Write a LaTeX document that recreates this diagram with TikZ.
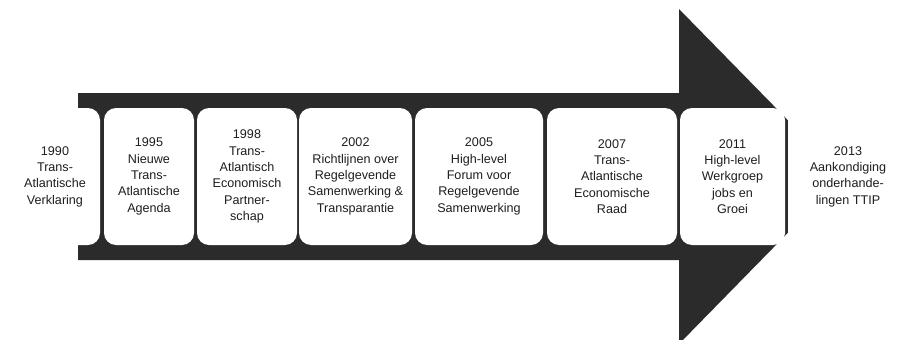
\documentclass[tikz,border=0pt]{standalone}
\usepackage{fontspec}
\setmainfont{Liberation Sans}
\definecolor{arrowgray}{HTML}{2B2B2B}
\definecolor{inkgray}{HTML}{1E1E1E}
\begin{document}
\begin{tikzpicture}[x=1pt,y=-1pt,
  stage/.style={fill=white, draw=none, rounded corners=12pt, inner sep=0pt,
    minimum height=137pt, align=center, text=inkgray,
    font=\fontsize{12.6}{16.3}\selectfont}]
\useasboundingbox (0,0) rectangle (905,340);
\clip (0,0) rectangle (905,340);
% the big timeline arrow
\fill[arrowgray] (78,93) -- (679,93) -- (679,9) -- (843,176.5) -- (679,344)
  -- (679,260) -- (78,260) -- cycle;
% milestones along the shaft
\node[stage, minimum width=90pt]  (b1) at (55,176.5)    {1990\\Trans-\\Atlantische\\Verklaring};
\node[stage, minimum width=90pt]  (b2) at (149,176.5)   {1995\\Nieuwe\\Trans-\\Atlantische\\Agenda};
\node[stage, minimum width=100pt] (b3) at (247,176.5)   {1998\\Trans-\\Atlantisch\\Economisch\\Partner-\\schap};
\node[stage, minimum width=113pt] (b4) at (355.5,176.5) {2002\\Richtlijnen over\\Regelgevende\\Samenwerking \&\\Transparantie};
\node[stage, minimum width=128pt] (b5) at (479,176.5)   {2005\\High-level\\Forum voor\\Regelgevende\\Samenwerking};
\node[stage, minimum width=130pt] (b6) at (612,176.5)   {2007\\Trans-\\Atlantische\\Economische\\Raad};
\node[stage, minimum width=105pt] (b7) at (732.5,176.5) {2011\\High-level\\Werkgroep\\jobs en\\Groei};
\node[stage, minimum width=120pt] (b8) at (848,176.5)   {2013\\Aankondiging\\onderhande-\\lingen TTIP};
\end{tikzpicture}
\end{document}
